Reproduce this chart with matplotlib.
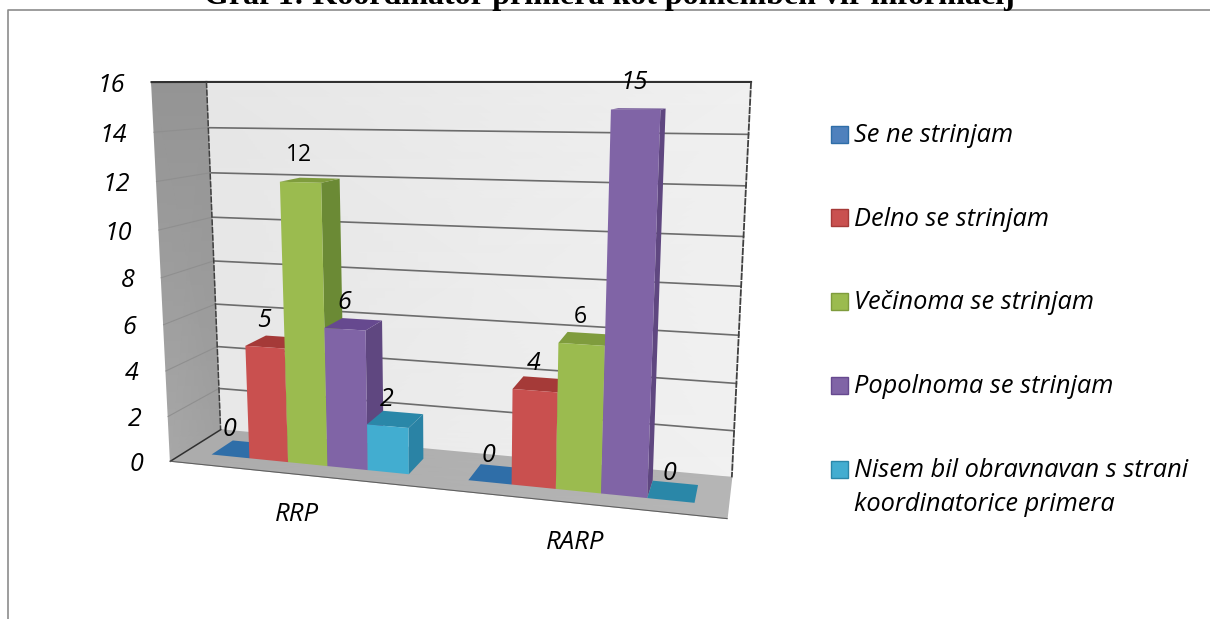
import numpy as np
import matplotlib
matplotlib.use("Agg")
import matplotlib.pyplot as plt
from matplotlib.patches import Polygon, Rectangle

categories = ["RRP", "RARP"]
series_names = ["Se ne strinjam", "Delno se strinjam", "Večinoma se strinjam",
                "Popolnoma se strinjam",
                "Nisem bil obravnavan s strani\nkoordinatorice primera"]
rrp_values = [0, 5, 12, 6, 2]
rarp_values = [0, 4, 6, 15, 0]
y_ticks = [0, 2, 4, 6, 8, 10, 12, 14, 16]
title_text = "Graf 1: Koordinator primera kot pomemben vir informacij"

front_colors = ["#4f81bd", "#c9504f", "#9bbb4f", "#8064a6", "#42add0"]
top_colors = ["#2f6ea8", "#a53a38", "#7f9c3d", "#66498f", "#2a87a8"]
side_colors = ["#2f6ea8", "#90332f", "#6b8a35", "#5f4780", "#2a83a5"]
label_upright = {(0, 2), (1, 2)}

FONT = "Open Sans"

# corners of the chart box in pixels: (x, value, depth) -> (px, py)
# x runs 0..2 across the categories, depth 0 is the front edge, 1 the back wall
box_world = [(0, 16, 1), (2, 16, 1), (2, 0, 1), (0, 0, 1), (0, 0, 0), (2, 0, 0), (0, 16, 0)]
box_pixel = [(207, 82), (751, 82), (732, 477), (220, 430), (171, 461), (727, 519), (151, 82)]


def fit_camera(world, pixel):
    rows = []
    for (x, y, z), (u, v) in zip(world, pixel):
        u, v = u / 1000, v / 1000
        rows.append([x, y, z, 1, 0, 0, 0, 0, -u * x, -u * y, -u * z, -u])
        rows.append([0, 0, 0, 0, x, y, z, 1, -v * x, -v * y, -v * z, -v])
    vt = np.linalg.svd(np.array(rows, dtype=float))[2]
    return vt[-1].reshape(3, 4)


camera = fit_camera(box_world, box_pixel)


def project(x, y, z):
    p = camera @ np.array([x, y, z, 1.0])
    return p[0] / p[2] * 1000, p[1] / p[2] * 1000


def face(ax, pts, color, z, edge="none"):
    ax.add_patch(Polygon([project(*p) for p in pts], closed=True, facecolor=color,
                         edgecolor=edge, linewidth=0.5, zorder=z))


def gradient(ax, corners, grays, z):
    # corners and grays go left-bottom, right-bottom, left-top, right-top
    xy = np.array([project(*p) for p in corners]).reshape(2, 2, 2)
    ax.pcolormesh(xy[..., 0], xy[..., 1], np.array(grays).reshape(2, 2),
                  shading="gouraud", cmap="gray", vmin=0, vmax=255, zorder=z)


def edge(ax, a, b, color="#404040", lw=1.0, ls="-", z=3):
    pa, pb = project(*a), project(*b)
    ax.plot([pa[0], pb[0]], [pa[1], pb[1]], color=color, lw=lw, ls=ls, zorder=z)


fig = plt.figure(figsize=(12.10, 6.19), dpi=100)
ax = fig.add_axes([0, 0, 1, 1])
ax.set_xlim(0, 1210)
ax.set_ylim(619, 0)
ax.axis("off")

# outer frame, cut off on the right and at the bottom
ax.plot([8, 8, 1210], [619, 9.5, 9.5], color="#8c8c8c", lw=1.2, zorder=1)
ax.text(609.5, 4, title_text, family="Liberation Serif", weight="bold", fontsize=23,
        ha="center", va="baseline", color="black", zorder=6)

# walls and floor
gradient(ax, [(0, 0, 1), (2, 0, 1), (0, 16, 1), (2, 16, 1)], [232, 241, 230, 240], 2)
gradient(ax, [(0, 0, 0), (0, 0, 1), (0, 16, 0), (0, 16, 1)], [168, 160, 148, 148], 2)
gradient(ax, [(0, 0, 0), (2, 0, 0), (0, 0, 1), (2, 0, 1)], [172, 182, 172, 182], 2)

for v in y_ticks[1:-1]:
    edge(ax, (0, v, 1), (2, v, 1), color="#6c6c6c", lw=1.2)
    edge(ax, (0, v, 0), (0, v, 1), color="#8f8f8f", lw=0.8)
for v in y_ticks:
    px, py = project(0, v, 0)
    ax.text(px - 27, py + 3, str(v), family=FONT, style="italic", fontsize=18,
            ha="right", va="center", color="black", zorder=6)

edge(ax, (0, 16, 0), (0, 16, 1), color="#303030", lw=1.5)
edge(ax, (0, 16, 1), (2, 16, 1), color="#303030", lw=1.5)
edge(ax, (2, 16, 1), (2, 0, 1), color="#404040", lw=1.3, ls=(0, (4, 0.6)))
edge(ax, (0, 16, 1), (0, 0, 1), color="#404040", lw=1.1, ls=(0, (4, 1)))
edge(ax, (0, 0, 0), (0, 0, 1), color="#303030", lw=1.1)
edge(ax, (0, 0, 0), (2, 0, 0), color="#606060", lw=0.8)

# bars, left to right so each front covers the side of the bar before it
group_gap = 0.11
bar_width = (1 - 2 * group_gap) / 5
z_front, z_back = 0.28, 0.72
for g, values in enumerate([rrp_values, rarp_values]):
    for s, val in enumerate(values):
        x0 = g + group_gap + s * bar_width
        x1 = x0 + bar_width
        order = 4 + 0.1 * s
        if val == 0:
            face(ax, [(x0, 0, z_front), (x1, 0, z_front), (x1, 0, z_back), (x0, 0, z_back)],
                 top_colors[s], order)
        else:
            face(ax, [(x1, 0, z_front), (x1, 0, z_back), (x1, val, z_back), (x1, val, z_front)],
                 side_colors[s], order)
            face(ax, [(x0, val, z_front), (x1, val, z_front), (x1, val, z_back), (x0, val, z_back)],
                 top_colors[s], order)
            face(ax, [(x0, 0, z_front), (x1, 0, z_front), (x1, val, z_front), (x0, val, z_front)],
                 front_colors[s], order + 0.01)
        px, py = project(x0 + bar_width / 2, val, z_front)
        upright = (g, s) in label_upright
        ax.text(px - 1, py - 27, str(val), family=FONT, fontsize=16.5 if upright else 18,
                style="normal" if upright else "italic",
                ha="center", va="center", color="black", zorder=6)

for g, cat in enumerate(categories):
    px, py = project(g + 0.5, 0, 0)
    ax.text(px + 2, py + 40, cat, family=FONT, style="italic", fontsize=18.5,
            ha="center", va="center", color="black", zorder=6)

# legend
legend_y = [134, 217.5, 301, 385, 469]
for name, y, fc, ec in zip(series_names, legend_y, front_colors, top_colors):
    ax.add_patch(Rectangle((830.5, y - 8.5), 17, 17, facecolor=fc, edgecolor=ec, lw=1.0, zorder=5))
    ax.text(854, y - 11, name, family=FONT, style="italic", fontsize=18.3,
            ha="left", va="top", color="black", linespacing=1.45, zorder=6)

fig.savefig("out.png", dpi=100)
